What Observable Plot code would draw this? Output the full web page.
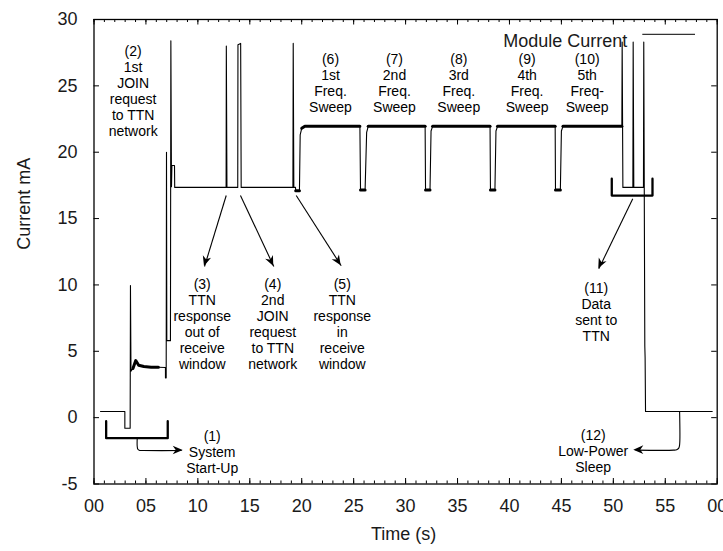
<!DOCTYPE html>
<html><head><meta charset="utf-8">
<script src="https://cdn.jsdelivr.net/npm/d3@7"></script>
<script src="https://cdn.jsdelivr.net/npm/@observablehq/plot@0.6"></script>
<style>
html,body{margin:0;padding:0;background:#fff;}
#chart svg{display:block;}
</style>
</head><body><div id="chart"></div>
<script>
// ---- measured trace (time in s, current in mA) ----
const timeS = [0.63,2.97,2.97,3.48,3.51,3.56,3.75,4.02,4.3,4.8,5.5,6.2,6.88,6.88,6.95,6.98,7.01,7.36,7.4,7.46,7.5,7.75,7.77,
  12.72,12.74,12.8,13.84,13.86,14.12,14.17,19.15,19.18,19.24,19.4,19.42,19.78,19.85,20.0,20.3,
  25.6,25.66,26.1,26.25,26.4,31.88,31.92,32.35,32.45,32.6,38.13,38.17,38.6,38.7,38.85,
  44.4,44.43,44.9,45.0,45.15,50.82,50.85,50.92,51.88,51.91,51.97,52.9,52.93,53.03,53.06,53.1,59.52];
const currentMA = [0.46,0.46,-0.8,-0.8,9.95,3.5,3.7,4.3,3.95,3.85,3.8,3.8,3.78,3.0,3.0,20.0,5.8,5.8,28.4,17.4,19.0,19.0,17.35,
  17.35,28.0,17.35,17.35,28.1,28.2,17.35,17.35,28.2,17.35,17.35,17.1,17.1,21.3,21.8,21.95,
  21.95,17.15,17.15,21.5,21.95,21.95,17.15,17.15,21.6,21.95,21.95,17.15,17.15,21.6,21.95,
  21.95,17.15,17.15,21.6,21.95,21.95,28.3,17.35,17.35,28.3,17.35,17.35,28.3,5.4,4.5,0.46,0.46];
// stretches where the measured trace is noisy (drawn as a thick band)
const noisyFrom = [3.7,19.42,20.0,25.66,26.3,31.92,32.5,38.17,38.8,44.43,45.1];
const noisyTo   = [6.86,19.78,25.62,26.1,31.9,32.35,38.15,38.6,44.41,44.9,50.83];

// ---- axes ----
const xTicks = [0,5,10,15,20,25,30,35,40,45,50,55,60];
const xTickLabels = ["00","05","10","15","20","25","30","35","40","45","50","55","00"];
const xMinorTicks = [0,1,2,3,4,5,6,7,8,9,10,11,12,13,14,15,16,17,18,19,20,21,22,23,24,25,26,27,28,29,30,
  31,32,33,34,35,36,37,38,39,40,41,42,43,44,45,46,47,48,49,50,51,52,53,54,55,56,57,58,59,60];
const yTicks = [-5,0,5,10,15,20,25,30];
const yTickLabels = ["-5","0","5","10","15","20","25","30"];
const xTitle = "Time (s)";
const yTitle = "Current mA";
const seriesName = "Module Current";

// ---- annotations ----
const labelTexts = ["(1)\nSystem\nStart-Up","(2)\n1st\nJOIN\nrequest\nto TTN\nnetwork",
  "(3)\nTTN\nresponse\nout of\nreceive\nwindow","(4)\n2nd\nJOIN\nrequest\nto TTN\nnetwork",
  "(5)\nTTN\nresponse\nin\nreceive\nwindow","(6)\n1st\nFreq.\nSweep","(7)\n2nd\nFreq.\nSweep",
  "(8)\n3rd\nFreq.\nSweep","(9)\n4th\nFreq.\nSweep","(10)\n5th\nFreq-\nSweep",
  "(11)\nData\nsent to\nTTN","(12)\nLow-Power\nSleep"];
const labelT = [11.38,3.77,10.42,17.21,23.9,22.77,28.93,35.12,41.7,47.48,48.35,48.06];
const labelI = [-2.61,24.61,7.07,7.07,7.07,25.24,25.24,25.24,25.24,25.24,7.94,-2.52];

const arrowFromT = [12.73,14.1,19.47,51.87];
const arrowFromI = [16.74,16.74,16.74,16.49];
const arrowToT   = [10.64,17.31,23.8,48.6];
const arrowToI   = [11.39,11.39,11.44,11.21];

const bracketId = [1,1,1,1,11,11,11,11];
const bracketT  = [1.17,1.17,7.1,7.1,49.85,49.85,53.77,53.77];
const bracketI  = [-0.27,-1.55,-1.55,-0.27,18.0,16.73,16.73,18.0];

const connectorId = [1,1,1,1,1,1,12,12,12,12,12,12];
const connectorT  = [4.16,4.16,4.22,4.4,4.7,8.4, 56.38,56.38,56.3,56.1,55.8,52.2];
const connectorI  = [-1.55,-2.15,-2.38,-2.47,-2.48,-2.48, 0.46,-2.05,-2.3,-2.42,-2.45,-2.45];
const connectorHeadFromT = [4.7,55.8];
const connectorHeadFromI = [-2.48,-2.45];
const connectorHeadToT = [8.59,51.97];
const connectorHeadToI = [-2.48,-2.45];

// ---- build tables ----
const trace = timeS.map((t, k) => ({t, i: currentMA[k]}));
const noisy = noisyFrom.flatMap((a, k) => trace.filter(d => d.t >= a && d.t <= noisyTo[k]).map(d => ({...d, seg: k})));
const labels = labelTexts.map((text, k) => ({text, t: labelT[k], i: labelI[k]}));
const arrows = arrowFromT.map((t, k) => ({t1: t, i1: arrowFromI[k], t2: arrowToT[k], i2: arrowToI[k]}));
const brackets = bracketT.map((t, k) => ({id: bracketId[k], t, i: bracketI[k]}));
const connectors = connectorT.map((t, k) => ({id: connectorId[k], t, i: connectorI[k]}));
const heads = arrows.concat(connectorHeadFromT.map((t, k) => ({t1: t, i1: connectorHeadFromI[k], t2: connectorHeadToT[k], i2: connectorHeadToI[k]})));

const W = 723, H = 551;
const mL = 93.5, mR = 6.3, mT = 19, mB = 67.5;
const plotW = W - mL - mR, plotH = H - mT - mB;

function arrowHeads(index, scales) {
  const g = d3.create("svg:g");
  for (const h of heads) {
    const x1 = scales.x(h.t1), y1 = scales.y(h.i1), x2 = scales.x(h.t2), y2 = scales.y(h.i2);
    const a = Math.atan2(y2 - y1, x2 - x1), c = Math.cos(a), s = Math.sin(a);
    const L = 10, Wd = 4.3, N = 3;
    const pts = [[0,0],[-L,-Wd],[-L+N,0],[-L,Wd]];
    const d = "M" + pts.map(([px, py]) => [x2 + px*c - py*s, y2 + px*s + py*c].map(v => v.toFixed(2)).join(",")).join("L") + "Z";
    g.append("path").attr("d", d).attr("fill", "black");
  }
  return g.node();
}
function legendSwatch(index, scales, values, dims) {
  const right = dims.width - dims.marginRight;
  const y = dims.marginTop + 15.3;
  return d3.create("svg:line").attr("x1", right - 74.4).attr("x2", right - 21.7)
    .attr("y1", y).attr("y2", y).attr("stroke", "#333").attr("stroke-width", 1.3).node();
}

const chart = Plot.plot({
  width: W, height: H,
  marginLeft: mL, marginRight: mR, marginTop: mT, marginBottom: mB,
  x: {domain: [0, 60]},
  y: {domain: [-5, 30]},
  style: {fontFamily: "'Liberation Sans', Arial, Helvetica, sans-serif", fontSize: "14px", color: "#1a1a1a", background: "#fff"},
  marks: [
    Plot.axisX(xTicks, {anchor: "bottom", tickSize: 0, tickPadding: 15, fontSize: 18, label: null,
      tickFormat: d => xTickLabels[xTicks.indexOf(d)]}),
    Plot.axisY(yTicks, {anchor: "left", tickSize: 0, tickPadding: 16.5, fontSize: 18, label: null,
      tickFormat: d => yTickLabels[yTicks.indexOf(d)]}),
    Plot.tickX(xMinorTicks, {x: d => d, insetTop: plotH - 3, stroke: "black"}),
    Plot.tickX(xMinorTicks, {x: d => d, insetBottom: plotH - 3, stroke: "black"}),
    Plot.tickX(xTicks, {x: d => d, insetTop: plotH - 5.5, stroke: "black"}),
    Plot.tickX(xTicks, {x: d => d, insetBottom: plotH - 5.5, stroke: "black"}),
    Plot.tickY(yTicks, {y: d => d, insetRight: plotW - 5.5, stroke: "black"}),
    Plot.tickY(yTicks, {y: d => d, insetLeft: plotW - 5.5, stroke: "black"}),
    Plot.frame({stroke: "black", strokeWidth: 1.3}),
    Plot.line(trace, {x: "t", y: "i", stroke: "black", strokeWidth: 1.1}),
    Plot.line(noisy, {x: "t", y: "i", z: "seg", stroke: "black", strokeWidth: 3}),
    Plot.line(brackets, {x: "t", y: "i", z: "id", stroke: "black", strokeWidth: 2.3}),
    Plot.line(connectors, {x: "t", y: "i", z: "id", stroke: "black", strokeWidth: 1.1, curve: "catmull-rom"}),
    Plot.link(arrows, {x1: "t1", y1: "i1", x2: "t2", y2: "i2", stroke: "black", strokeWidth: 1.1}),
    arrowHeads,
    Plot.text(labels, {x: "t", y: "i", text: "text", fontSize: 14, lineHeight: 1.143, fill: "black"}),
    Plot.text([seriesName], {frameAnchor: "top-right", dx: -90, dy: 15, textAnchor: "end", fontSize: 18, fill: "#1a1a1a"}),
    legendSwatch,
    Plot.text([xTitle], {frameAnchor: "bottom", dx: -2, dy: 56, fontSize: 18, fill: "#1a1a1a"}),
    Plot.text([yTitle], {frameAnchor: "left", rotate: -90, dx: -70, dy: -2, fontSize: 18, fill: "#1a1a1a"})
  ]
});
document.getElementById("chart").append(chart);
</script>
</body></html>
